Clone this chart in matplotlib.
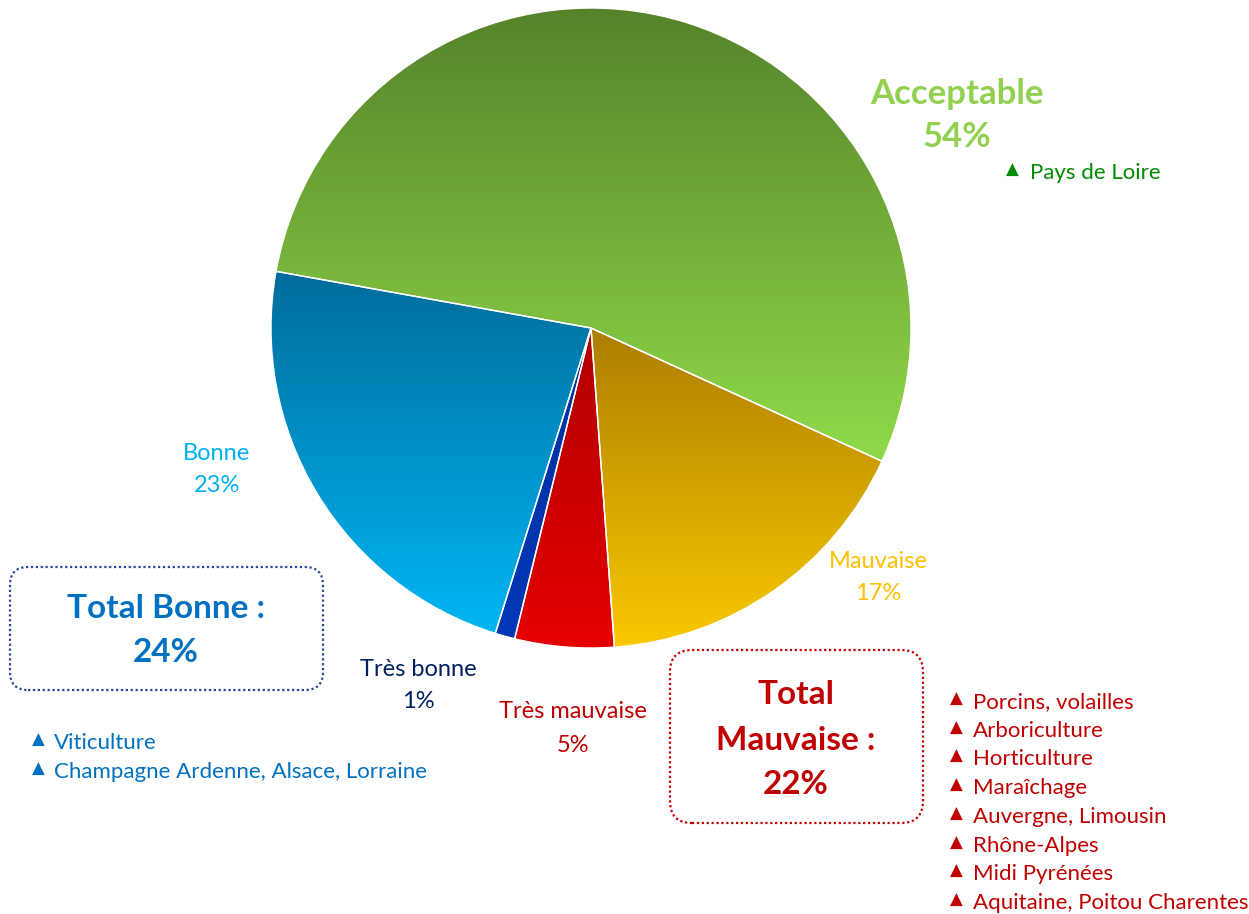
import numpy as np
import matplotlib
matplotlib.use('Agg')
import matplotlib.pyplot as plt
from matplotlib.patches import FancyBboxPatch
from matplotlib.colors import LinearSegmentedColormap

plt.rcParams['font.family'] = ['Lato', 'DejaVu Sans']

# Data (order = counter-clockwise from the Acceptable/Mauvaise boundary)
categories = ['Acceptable', 'Bonne', 'Très bonne', 'Très mauvaise', 'Mauvaise']
values = [54, 23, 1, 5, 17]
pct_labels = ['54%', '23%', '1%', '5%', '17%']
total_bonne = '24%'
total_mauvaise = '22%'
bonne_items = ['Viticulture', 'Champagne Ardenne, Alsace, Lorraine']
mauvaise_items = ['Porcins, volailles', 'Arboriculture', 'Horticulture',
                  'Maraîchage', 'Auvergne, Limousin', 'Rhône-Alpes',
                  'Midi Pyrénées', 'Aquitaine, Poitou Charentes']
acceptable_items = ['Pays de Loire']

# gradient (top colour, bottom colour) per slice
GRAD = {
    'Acceptable':    ('#55822a', '#90da4a'),
    'Bonne':         ('#006c9c', '#00b6f4'),
    'Très bonne':    ('#0030a0', '#0038b8'),
    'Très mauvaise': ('#b00000', '#e60000'),
    'Mauvaise':      ('#ad7e00', '#fac800'),
}

W, H = 1249, 914
fig = plt.figure(figsize=(W / 100, H / 100), dpi=100)
ax = fig.add_axes([0, 0, 1, 1])


def Y(y_img):
    # image row -> data y (text sits ~2px high with va='center')
    return H - y_img


cx, cy, R = 591, Y(328), 320
wedges, _ = ax.pie(values, center=(cx, cy), radius=R, startangle=-24.6,
                   counterclock=True,
                   wedgeprops=dict(edgecolor='white', linewidth=1.0))
ax.set_xlim(0, W)
ax.set_ylim(0, H)
ax.set_aspect('equal')
ax.axis('off')

grad = np.linspace(0, 1, 256).reshape(-1, 1)
for w, cat in zip(wedges, categories):
    top, bot = GRAD[cat]
    cmap = LinearSegmentedColormap.from_list(cat, [top, bot])
    w.set_facecolor('none')
    w.set_zorder(3)
    verts = w.get_path().vertices
    bb = w.get_patch_transform().transform(verts)
    x0, x1 = bb[:, 0].min(), bb[:, 0].max()
    y0, y1 = bb[:, 1].min(), bb[:, 1].max()
    im = ax.imshow(grad, cmap=cmap, extent=(x0, x1, y0, y1), origin='upper',
                   aspect='auto', zorder=2, interpolation='bilinear')
    im.set_clip_path(w)
ax.set_xlim(0, W)
ax.set_ylim(0, H)


def lines(x, y_img, texts, dy, **kw):
    for i, t in enumerate(texts):
        ax.text(x, Y(y_img + 2 + i * dy), t, ha='center', va='center', **kw)


# slice labels
lines(957, 92, ['Acceptable', pct_labels[0]], 43, fontsize=25,
      fontweight='bold', color='#92d050')
lines(217, 451, ['Bonne', pct_labels[1]], 33, fontsize=17, color='#00b0f0')
lines(418, 667, ['Très bonne', pct_labels[2]], 33, fontsize=17, color='#002060')
lines(573, 710, ['Très mauvaise', pct_labels[3]], 33, fontsize=17, color='#c00000')
lines(878, 560, ['Mauvaise', pct_labels[4]], 32, fontsize=17, color='#ffc000')

# totals in dotted rounded boxes
ax.add_patch(FancyBboxPatch((10, Y(690)), 313, 123,
                            boxstyle='round,pad=0,rounding_size=18',
                            fc='none', ec='#2846a0', lw=1.6, ls=(0, (1, 1.2))))
lines(166, 607, ['Total Bonne :', total_bonne], 44, fontsize=24,
      fontweight='bold', color='#0070c0')
ax.add_patch(FancyBboxPatch((670, Y(823)), 253, 173,
                            boxstyle='round,pad=0,rounding_size=22',
                            fc='none', ec='#c00000', lw=1.6, ls=(0, (1, 1.2))))
lines(796, 693, ['Total', 'Mauvaise :', total_mauvaise], 45, fontsize=24,
      fontweight='bold', color='#c00000')


def bullets(x_tri, x_txt, y_img, items, dy, color):
    for i, t in enumerate(items):
        yy = Y(y_img + 2 + i * dy)
        ax.text(x_tri, yy + 3, '▲', ha='center', va='center', fontsize=12,
                color=color, family='DejaVu Sans')
        ax.text(x_txt, yy, t, ha='left', va='center', fontsize=16, color=color)


bullets(1012, 1030, 171, acceptable_items, 29, '#008a00')
bullets(38, 54, 741, bonne_items, 29, '#0070c0')
bullets(956, 973, 700, mauvaise_items, 28.7, '#c00000')

fig.savefig('out.png', dpi=100, facecolor='white')
